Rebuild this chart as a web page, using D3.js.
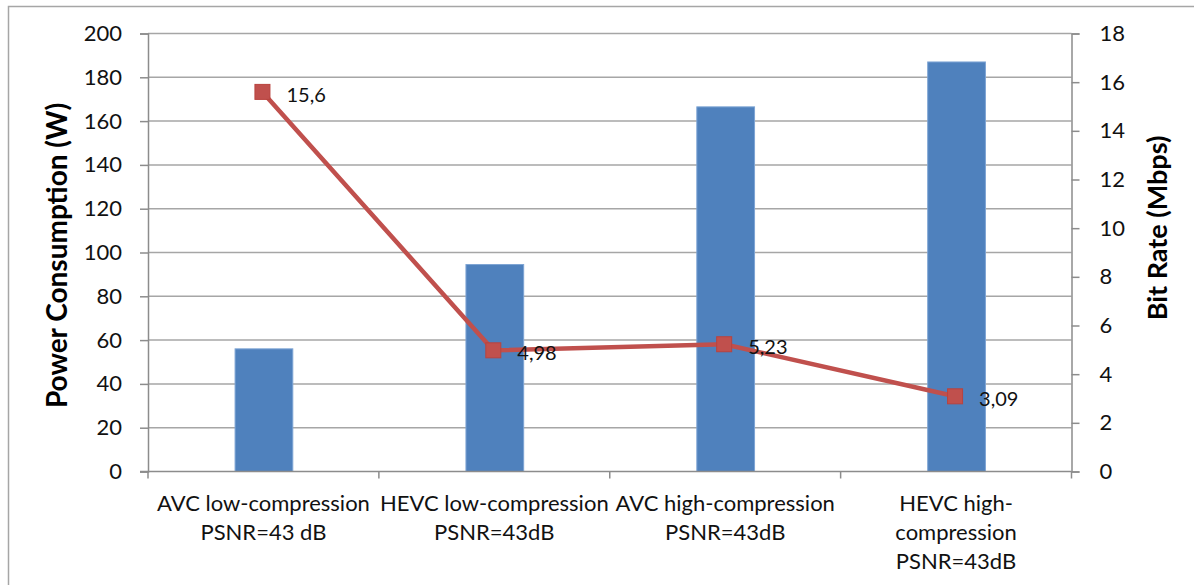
<!DOCTYPE html>
<html>
<head>
<meta charset="utf-8">
<script src="https://cdn.jsdelivr.net/npm/d3@7"></script>
<style>
  html, body { margin: 0; padding: 0; background: #fff; }
  svg { display: block; font-family: Lato, "Open Sans", sans-serif; }
</style>
</head>
<body>
<svg id="chart" width="1194" height="585"></svg>
<script>
// Encoder configurations (two-line / three-line axis labels)
const categories = [
  ["AVC low-compression", "PSNR=43 dB"],
  ["HEVC low-compression", "PSNR=43dB"],
  ["AVC high-compression", "PSNR=43dB"],
  ["HEVC high-", "compression", "PSNR=43dB"]
];
// Power consumption in watts (bars, left axis)
const powerValues = [56, 94.5, 166.5, 187];
// Bit rate in Mbps (line, right axis)
const bitrateValues = [15.6, 4.98, 5.23, 3.09];
const bitrateLabels = ["15,6", "4,98", "5,23", "3,09"];
// Axis ticks
const powerTicks = [0, 20, 40, 60, 80, 100, 120, 140, 160, 180, 200];
const bitrateTicks = [0, 2, 4, 6, 8, 10, 12, 14, 16, 18];

const svg = d3.select("#chart");
const plot = { left: 148, right: 1071.5, top: 33.5, bottom: 471.5 };

// outer frame
svg.append("path")
  .attr("d", "M8.5,600 L8.5,6.5 L1200,6.5")
  .attr("fill", "none").attr("stroke", "#a6a6a6").attr("stroke-width", 1.5);

const idx = d3.range(categories.length);
const x = d3.scaleBand().domain(idx).range([plot.left, plot.right]).paddingInner(0).paddingOuter(0);
const yL = d3.scaleLinear().domain([0, 200]).range([plot.bottom, plot.top]);
const yR = d3.scaleLinear().domain([0, 18]).range([plot.bottom, plot.top]);

// horizontal gridlines
svg.append("g").selectAll("line").data(powerTicks.filter(d => d > 0)).join("line")
  .attr("x1", plot.left).attr("x2", plot.right)
  .attr("y1", d => yL(d)).attr("y2", d => yL(d))
  .attr("stroke", "#a6a6a6").attr("stroke-width", 1.5);

// bars
const barW = x.bandwidth() * 0.25;
svg.append("g").selectAll("rect").data(powerValues).join("rect")
  .attr("x", (d, i) => x(i) + x.bandwidth() / 2 - barW / 2 + 0.5)
  .attr("width", barW)
  .attr("y", d => yL(d))
  .attr("height", d => yL(0) - yL(d))
  .attr("fill", "#4f81bd")
  .attr("stroke", "#7da4d4").attr("stroke-width", 1);

// left axis
const axisColor = "#8c8c8c";
const gL = svg.append("g").attr("transform", `translate(${plot.left},0)`)
  .call(d3.axisLeft(yL).tickValues(powerTicks).tickSize(8).tickPadding(18));
gL.select(".domain").attr("stroke", axisColor).attr("stroke-width", 1.5);
gL.selectAll(".tick line").attr("stroke", axisColor).attr("stroke-width", 1.5);
gL.selectAll(".tick text").attr("font-size", 22).attr("fill", "#111").attr("font-family", "Lato, sans-serif");

// right axis
const gR = svg.append("g").attr("transform", `translate(${plot.right},0)`)
  .call(d3.axisRight(yR).tickValues(bitrateTicks).tickSize(8).tickPadding(20));
gR.select(".domain").attr("stroke", axisColor).attr("stroke-width", 1.5);
gR.selectAll(".tick line").attr("stroke", axisColor).attr("stroke-width", 1.5);
gR.selectAll(".tick text").attr("font-size", 22).attr("fill", "#111").attr("font-family", "Lato, sans-serif");

// category axis
svg.append("line")
  .attr("x1", plot.left - 8).attr("x2", plot.right)
  .attr("y1", plot.bottom).attr("y2", plot.bottom)
  .attr("stroke", axisColor).attr("stroke-width", 1.5);
svg.append("g").selectAll("line").data(d3.range(categories.length + 1)).join("line")
  .attr("x1", d => plot.left + d * x.step()).attr("x2", d => plot.left + d * x.step())
  .attr("y1", plot.bottom).attr("y2", plot.bottom + 7)
  .attr("stroke", axisColor).attr("stroke-width", 1.5);

const catG = svg.append("g").selectAll("text").data(categories).join("text")
  .attr("text-anchor", "middle")
  .attr("font-size", 22).attr("fill", "#111")
  .attr("x", (d, i) => x(i) + x.bandwidth() / 2)
  .attr("y", 511);
catG.selectAll("tspan").data(d => d).join("tspan")
  .attr("x", function () { return d3.select(this.parentNode).attr("x"); })
  .attr("dy", (d, j) => j === 0 ? 0 : 28.8)
  .text(d => d);

// bit-rate line
const cx = i => x(i) + x.bandwidth() / 2 - 1;
svg.append("path").datum(bitrateValues)
  .attr("d", d3.line().x((d, i) => cx(i)).y(d => yR(d)))
  .attr("fill", "none").attr("stroke", "#c0504d").attr("stroke-width", 4.5)
  .attr("stroke-linejoin", "round");

const ms = 15;
svg.append("g").selectAll("rect").data(bitrateValues).join("rect")
  .attr("x", (d, i) => cx(i) - ms / 2).attr("y", d => yR(d) - ms / 2)
  .attr("width", ms).attr("height", ms)
  .attr("fill", "#c0504d").attr("stroke", "#b8433f").attr("stroke-width", 1);

svg.append("g").selectAll("text").data(bitrateValues).join("text")
  .attr("x", (d, i) => cx(i) + 24)
  .attr("y", d => yR(d) + 10)
  .attr("font-size", 20).attr("fill", "#111")
  .text((d, i) => bitrateLabels[i]);

// axis titles
svg.append("text")
  .attr("transform", `translate(67,${(plot.top + plot.bottom) / 2 + 3}) rotate(-90)`)
  .attr("text-anchor", "middle").attr("font-weight", "bold")
  .attr("font-size", 28).attr("fill", "#000")
  .text("Power Consumption (W)");

svg.append("text")
  .attr("transform", `translate(1167,228) rotate(-90)`)
  .attr("text-anchor", "middle").attr("font-weight", "bold")
  .attr("font-size", 27).attr("fill", "#000")
  .text("Bit Rate (Mbps)");
</script>
</body>
</html>
